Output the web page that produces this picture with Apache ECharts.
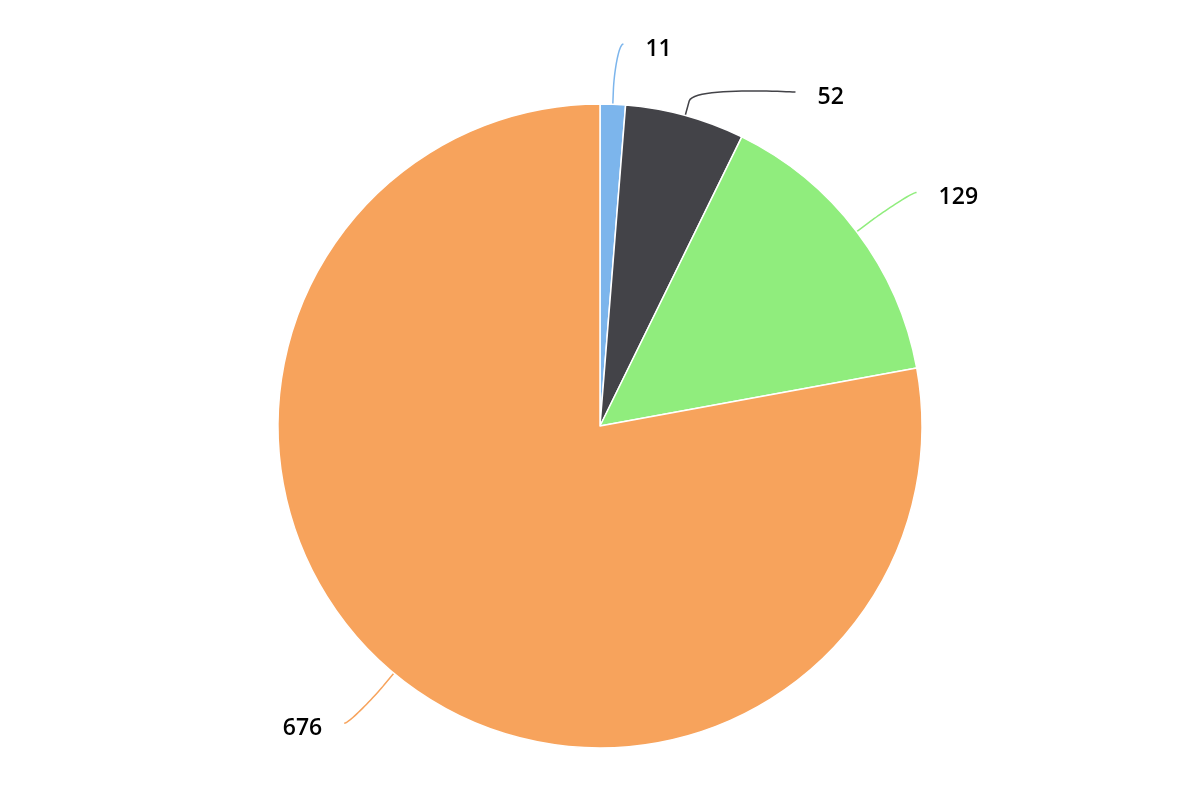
<!DOCTYPE html>
<html>
<head>
<meta charset="utf-8">
<script src="https://cdn.jsdelivr.net/npm/echarts@6/dist/echarts.min.js"></script>
<style>html,body{margin:0;padding:0;background:#fff}#chart{width:1200px;height:800px}</style>
</head>
<body>
<div id="chart"></div>
<script>
// ---- data ----
const categories = ['Slice 1', 'Slice 2', 'Slice 3', 'Slice 4'];
const values = [11, 52, 129, 676];
const palette = ['#7cb5ec', '#434348', '#90ed7d', '#f7a35c'];

// ---- layout constants ----
const CX = 600, CY = 426, R = 322, DIST = 65, BREAK = 15;
const RL = R + DIST;           // label anchor radius
const TOP_BOUND = 44, SPACING = 48, TEXT_GAP = 22, TEXT_DY = 5, NAT_PAD = 8;

// Highcharts-like label placement computed from slice angles
function computeLabels() {
  const total = values.reduce((a, b) => a + b, 0);
  let cum = 0;
  const items = values.map((v, i) => {
    const mid = (cum + v / 2) / total * 2 * Math.PI; cum += v;
    const sx = Math.sin(mid), cy = -Math.cos(mid);
    return {
      i, side: sx >= 0 ? 1 : -1,
      edge: [CX + R * sx, CY + R * cy],
      brk: [CX + (R + BREAK) * sx, CY + (R + BREAK) * cy],
      naturalY: CY + RL * cy
    };
  });
  const getX = (y, side) => CX + side * Math.sqrt(Math.max(0, RL * RL - (y - CY) * (y - CY)));
  [1, -1].forEach(side => {
    const arr = items.filter(d => d.side === side).sort((a, b) => a.naturalY - b.naturalY);
    let prev = -Infinity;
    arr.forEach(d => {
      let y = d.naturalY, useNatural = true;
      if (y < TOP_BOUND) { y = TOP_BOUND; }
      if (y < prev + SPACING) { y = prev + SPACING; useNatural = false; }
      d.y = y;
      d.x = useNatural ? getX(d.naturalY, side) + side * NAT_PAD : getX(y, side);
      prev = y;
    });
  });
  // soft connector: edge -> break point (radial), then cubic curve to label anchor
  items.forEach(d => {
    const p0 = d.brk;
    const p1 = [2 * d.brk[0] - d.edge[0], 2 * d.brk[1] - d.edge[1]];
    const p2 = [d.x - d.side * 5, d.y];
    const p3 = [d.x, d.y];
    const pts = [d.edge];
    const N = 24;
    for (let k = 0; k <= N; k++) {
      const t = k / N, u = 1 - t;
      pts.push([
        u * u * u * p0[0] + 3 * u * u * t * p1[0] + 3 * u * t * t * p2[0] + t * t * t * p3[0],
        u * u * u * p0[1] + 3 * u * u * t * p1[1] + 3 * u * t * t * p2[1] + t * t * t * p3[1]
      ]);
    }
    d.line = pts;
  });
  return items;
}
const labelPos = computeLabels();

const chart = echarts.init(document.getElementById('chart'), null, { renderer: 'canvas' });
chart.setOption({
  animation: false,
  series: [{
    type: 'pie',
    center: [CX, CY],
    radius: [0, R],
    startAngle: 90,
    clockwise: true,
    avoidLabelOverlap: false,
    data: categories.map((c, i) => ({ name: c, value: values[i], itemStyle: { color: palette[i] } })),
    itemStyle: { borderColor: '#ffffff', borderWidth: 1.5 },
    label: {
      show: true,
      formatter: '{c}',
      color: '#000000',
      fontFamily: 'Open Sans',
      fontWeight: 600,
      fontSize: 23
    },
    labelLine: { show: true, smooth: false, lineStyle: { width: 1.5 } },
    labelLayout: function (params) {
      const d = labelPos[params.dataIndex];
      return {
        x: d.x + d.side * TEXT_GAP,
        y: d.y + TEXT_DY,
        align: d.side > 0 ? 'left' : 'right',
        verticalAlign: 'middle',
        labelLinePoints: d.line
      };
    },
    emphasis: { disabled: true }
  }]
});
</script>
</body>
</html>
